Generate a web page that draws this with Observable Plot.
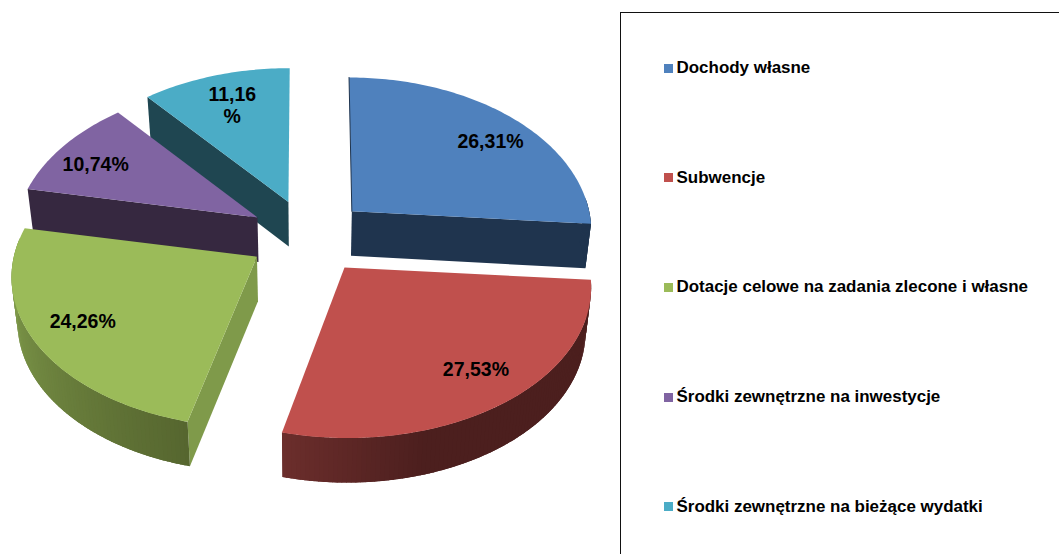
<!DOCTYPE html>
<html lang="pl">
<head>
<meta charset="utf-8">
<script src="https://cdn.jsdelivr.net/npm/d3@7"></script>
<script src="https://cdn.jsdelivr.net/npm/@observablehq/plot@0.6"></script>
<style>
html,body{margin:0;padding:0;background:#fff;width:1059px;height:554px;overflow:hidden}
#chart{position:relative;width:1059px;height:554px;font-family:"Liberation Sans",Arial,sans-serif}
#chart svg{position:absolute;left:0;top:0}
#legend{position:absolute;left:620px;top:12px;width:439px;height:542px;box-sizing:border-box;border-left:1.3px solid #111;border-top:1.3px solid #111}
.row{position:absolute;left:43px;display:flex;align-items:center;font-weight:bold;font-size:16.97px;line-height:20px;color:#000;white-space:nowrap}
.sw{display:inline-block;width:9px;height:9px;margin-right:3.5px}
</style>
</head>
<body>
<div id="chart"><div id="legend"></div></div>
<script>
const categories = ["Dochody własne","Subwencje","Dotacje celowe na zadania zlecone i własne","Środki zewnętrzne na inwestycje","Środki zewnętrzne na bieżące wydatki"];
const shares = [26.31,27.53,24.26,10.74,11.16];
const shareLabels = ["26,31%","27,53%","24,26%","10,74%","11,16\n%"];
const topColors = ["#4F81BD","#C0504D","#9BBB59","#8064A2","#4BACC6"];
const wallColors = ["#1F344E","#4C1F1E","#7F9A4A","#362840","#1F4651"];
// rim shading: [colour at slice end, angle span of the fade, colour after the fade]
const rimFades = [null,["#6C2E2C",30,"#4C1F1E"],["#56662F",78,"#84A04E"],null,null];
// which straight side of each slice faces the viewer (1 = end, 0 = start, -1 = none)
const wallSide = [1,-1,0,0,0];

// Scene set-up (page pixels per disk unit, camera tilt, explosion)
const W = 1059, H = 554, cx = 308, cy = 235.7, A = 240.5, B = 150, persp = 0.121, widen = 0.08, explode = 0.25, depth = 44.5, taper = 0.02;
const labelR = 0.7;
const labelNudge = [[24.5,-2.7],[22.5,10.3],[-23,5.3],[-24,-2.7],[-3.5,-5.7]];

const rad = d => d * Math.PI / 180;
const flat = (u, v) => {const s = 1 + persp * v; return [u / s, v / s, 1 / s];};
const toX = px => (px - cx) / A, toY = py => (cy - py) / B;

let acc = 0;
const slices = shares.map((s, i) => {
  const a0 = acc * 3.6; acc += s; const a1 = acc * 3.6, mid = (a0 + a1) / 2;
  const [ax, ay] = flat(explode * Math.sin(rad(mid)), explode * Math.cos(rad(mid)));
  return {i, a0, a1, mid, ax, ay};
});
// a point of a slice at radius r, angle t; down = drop to the underside
function pt(sl, r, t, down) {
  const [x, y, s] = flat(r * Math.sin(rad(t)), r * Math.cos(rad(t)));
  const w = x >= 0 ? widen * sl.ay : (sl.ay > 0 ? 0 : widen * sl.ay * Math.abs(x));
  let X = sl.ax + x * (1 - w) + sl.ax * (s - 1) * 0.6, Y = sl.ay + y;
  if (down) { X *= 1 - taper; Y -= depth / B; }
  return [X, Y];
}
const poly = [];
function add(id, col, pts) { pts.forEach(p => poly.push({id, col, x: p[0], y: p[1]})); }
function arcAngles(a, b) { const out = []; const n = Math.max(2, Math.ceil(b - a)); for (let k = 0; k <= n; k++) out.push(a + (b - a) * k / n); return out; }

// far-to-near drawing order
[4,3,2,0,1].forEach(i => {
  const sl = slices[i];
  if (wallSide[i] >= 0) {
    const t = wallSide[i] ? sl.a1 : sl.a0;
    add(`wall${i}`, wallColors[i], [pt(sl,0,t),pt(sl,1,t),pt(sl,1,t,true),pt(sl,0,t,true)]);
  }
  const ang = arcAngles(sl.a0, sl.a1);
  for (let k = 0; k < ang.length - 1; k++) {
    const t0 = ang[k], t1 = Math.min(sl.a1, ang[k+1] + 1.2);
    if (t1 < 86 || t0 > 276) continue; // far rim is hidden behind the top face
    let col = wallColors[i];
    const f = rimFades[i];
    if (f) {
      const anchor = i === 1 ? sl.a1 : sl.a0;
      const q = Math.min(1, Math.abs((t0 + ang[k+1]) / 2 - anchor) / f[1]);
      col = d3.interpolateRgb(f[0], f[2])(q);
    }
    const outer = arcAngles(t0, t1);
    add(`rim${i}-${k}`, col, [...outer.map(t => pt(sl,1,t)), ...outer.reverse().map(t => pt(sl,1,t,true))]);
  }
  add(`top${i}`, topColors[i], [pt(sl,0,sl.a0), ...ang.map(t => pt(sl,1,t))]);
});

const edge = [0,1].map(k => { const p = pt(slices[0], k, slices[0].a0); return {x: p[0], y: p[1]}; });

const labels = slices.map(sl => {
  const p = pt(sl, labelR, sl.mid), n = labelNudge[sl.i];
  return {x: p[0] + n[0] / A, y: p[1] - n[1] / B, text: shareLabels[sl.i]};
});

const plot = Plot.plot({
  width: W, height: H, margin: 0, style: {background: "transparent"},
  x: {domain: [toX(0), toX(W)], range: [0, W], axis: null},
  y: {domain: [toY(H), toY(0)], range: [H, 0], axis: null},
  color: {type: "identity"},
  marks: [
    Plot.line(poly, {x: "x", y: "y", z: "id", fill: "col", stroke: "none", curve: "linear"}),
    Plot.line(edge, {x: "x", y: "y", stroke: wallColors[0], strokeWidth: 1}),
    Plot.text(labels, {x: "x", y: "y", text: "text", fontFamily: "Liberation Sans, Arial, sans-serif", fontWeight: "bold", fontSize: 19.5, lineHeight: 1.12, fill: "#000"})
  ]
});
const chart = document.getElementById("chart");
chart.insertBefore(plot, chart.firstChild);

const legend = document.getElementById("legend");
categories.forEach((c, i) => {
  const row = document.createElement("div");
  row.className = "row";
  row.style.top = (45 + i * 109.7) + "px";
  const sw = document.createElement("span");
  sw.className = "sw"; sw.style.background = topColors[i];
  const tx = document.createElement("span");
  tx.textContent = c;
  row.append(sw, tx);
  legend.append(row);
});
</script>
</body>
</html>
